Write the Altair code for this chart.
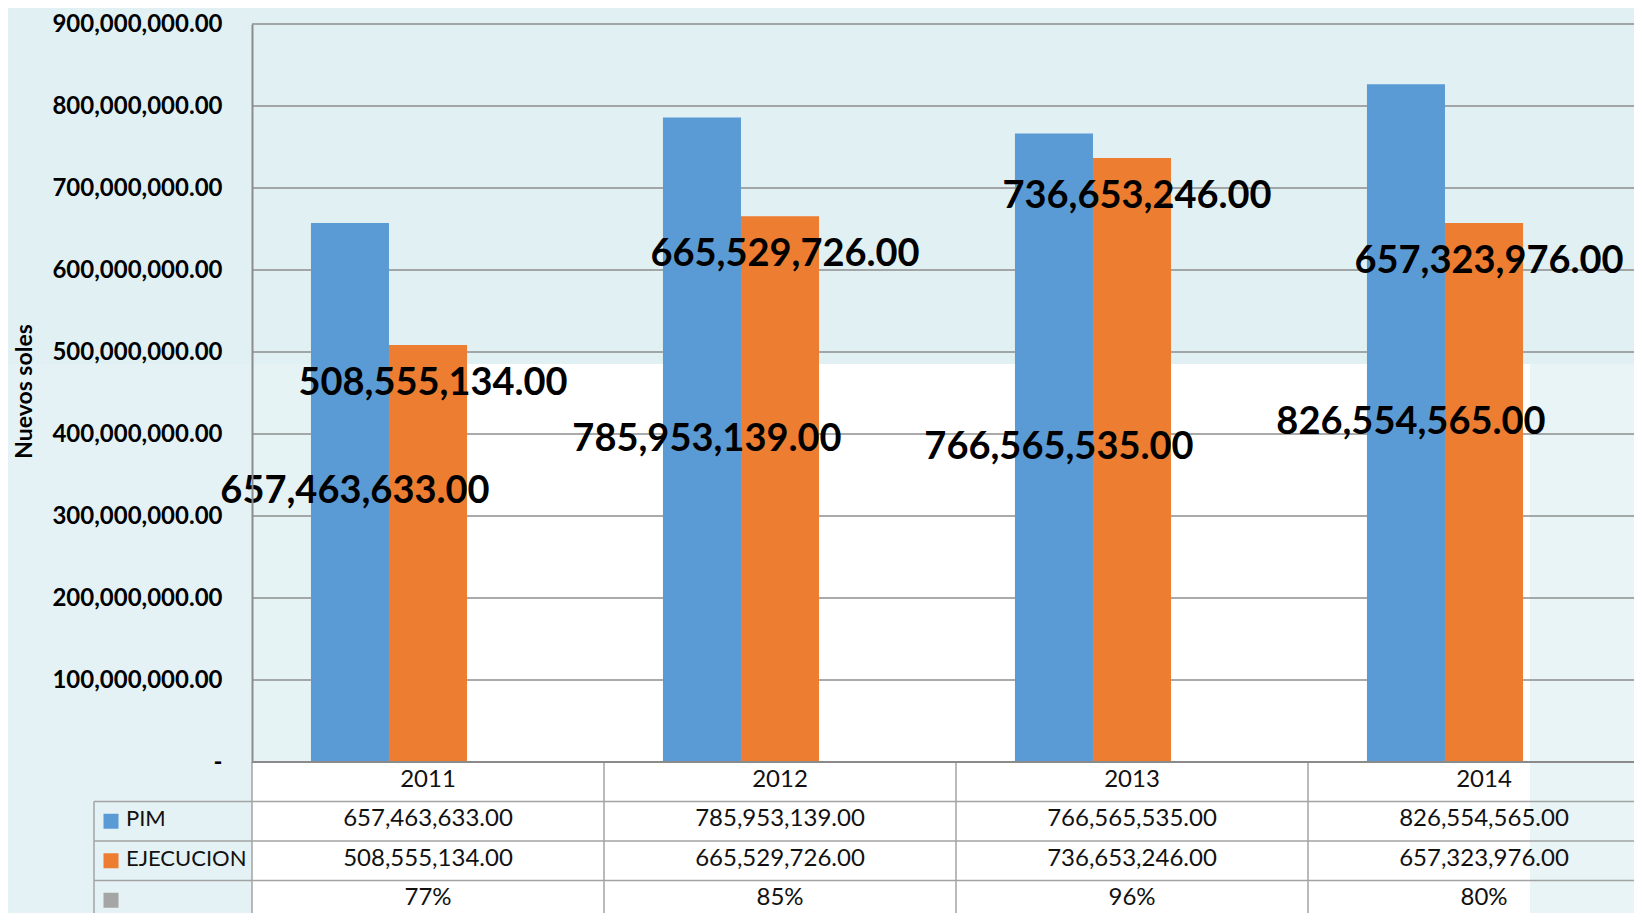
import altair as alt
import pandas as pd

# ---------------- data ----------------
years = ["2011", "2012", "2013", "2014"]
pim = [657463633.00, 785953139.00, 766565535.00, 826554565.00]
ejecucion = [508555134.00, 665529726.00, 736653246.00, 657323976.00]
pct = [77, 85, 96, 80]
series_keys = ["PIM", "EJECUCION", "PCT"]
series_labels = ["PIM", "EJECUCION", ""]
series_colors = ["#5B9BD5", "#ED7D31", "#A5A5A5"]
y_ticks = [0, 100000000, 200000000, 300000000, 400000000, 500000000,
           600000000, 700000000, 800000000, 900000000]
y_title = "Nuevos soles"

# ---------------- layout ----------------
W = 1382          # visible plot width
FULL_W = 1408     # four category columns (last one runs past the right edge)
PLOT_H = 738      # value area height
ROW_H = 39.5      # data-table row height
H = 889           # value area + data table
FONT = "Lato"

bars_df = pd.DataFrame({
    "year": years * 2,
    "series": ["PIM"] * 4 + ["EJECUCION"] * 4,
    "value": pim + ejecucion,
})
pim_df = bars_df[bars_df.series == "PIM"]
eje_df = bars_df[bars_df.series == "EJECUCION"]
grid_df = pd.DataFrame({"value": y_ticks[1:]})

rows = []
for i, yr in enumerate(years):
    rows.append({"year": yr, "row": 0.5, "text": yr})
    rows.append({"year": yr, "row": 1.5, "text": f"{pim[i]:,.2f}"})
    rows.append({"year": yr, "row": 2.5, "text": f"{ejecucion[i]:,.2f}"})
    rows.append({"year": yr, "row": 3.5, "text": f"{pct[i]}%"})
table_df = pd.DataFrame(rows)
legend_df = pd.DataFrame({"series": series_keys, "label": series_labels,
                          "row": [1.5, 2.5, 3.5]})
vline_df = pd.DataFrame({"year": years, "r0": [0] * 4, "r1": [4] * 4})
hline_df = pd.DataFrame({"row": [1, 2, 3]})
one = pd.DataFrame({"k": [0]})

# ---------------- scales ----------------
xs_bar = alt.Scale(domain=years, range=[0, FULL_W], paddingInner=0.335, paddingOuter=0.1675)
ys_bar = alt.Scale(domain=[0, 900000000], range=[PLOT_H, 0], nice=False, zero=True)
xoff = alt.XOffset("series:N", scale=alt.Scale(domain=series_keys, paddingInner=0, paddingOuter=0))
color = alt.Color("series:N", scale=alt.Scale(domain=series_keys, range=series_colors), legend=None)
xs_tab = alt.Scale(domain=years, range=[0, FULL_W], paddingInner=0, paddingOuter=0)
ys_tab = alt.Scale(domain=[0, 4], range=[PLOT_H, PLOT_H + 4 * ROW_H], nice=False, zero=False)

# ---------------- background decoration ----------------
def deco(x, x2, y, y2, c):
    return alt.Chart(one).mark_rect(color=c).encode(
        x=alt.value(x), x2=alt.value(x2), y=alt.value(y), y2=alt.value(y2))

decor = alt.layer(
    deco(-244, W, -16, 340, "#E1F0F3"),
    deco(-244, 0, 340, H, "#E4F2F5"),
    deco(0, 120, 340, PLOT_H, "#E6F3F5"),
    deco(1278, W, 340, H, "#E8F4F6"),
)

# ---------------- value chart ----------------
grid = alt.Chart(grid_df).mark_rule(color="#8E8E8E", strokeWidth=1.5).encode(
    y=alt.Y("value:Q", scale=ys_bar), x=alt.value(0), x2=alt.value(W))

yaxis = alt.Axis(
    values=y_ticks,
    labelExpr="datum.value == 0 ? '-\u00a0\u00a0' : format(datum.value, ',.2f')",
    labelFont=FONT, labelFontWeight="bold", labelFontSize=24, labelColor="#000000",
    labelPadding=30, ticks=False, grid=False,
    domainColor="#8C8C8C", domainWidth=2,
    title=y_title, titleFont=FONT, titleFontSize=23, titleFontWeight="bold",
    titleColor="#000000", titleX=-228, titleY=367, titleAngle=270,
    titleAlign="center", titleBaseline="middle", zindex=1,
)

bars = alt.Chart(bars_df).mark_bar().encode(
    x=alt.X("year:N", scale=xs_bar, axis=None),
    xOffset=xoff,
    y=alt.Y("value:Q", scale=ys_bar, axis=yaxis),
    color=color,
)

lab_pim = alt.Chart(pim_df).transform_calculate(mid="datum.value / 2").mark_text(
    font=FONT, fontWeight="bold", fontSize=38, color="#000000", dx=5,
    align="center", baseline="middle").encode(
    x=alt.X("year:N", scale=xs_bar, axis=None), xOffset=xoff,
    y=alt.Y("mid:Q", scale=ys_bar),
    text=alt.Text("value:Q", format=",.2f"))

lab_eje = alt.Chart(eje_df).mark_text(
    font=FONT, fontWeight="bold", fontSize=38, color="#000000", dx=5, dy=39,
    align="center", baseline="middle").encode(
    x=alt.X("year:N", scale=xs_bar, axis=None), xOffset=xoff,
    y=alt.Y("value:Q", scale=ys_bar),
    text=alt.Text("value:Q", format=",.2f"))

value_chart = alt.layer(grid, bars, lab_pim, lab_eje)

# ---------------- data table ----------------
hlines = alt.Chart(hline_df).mark_rule(color="#A3A3A3", strokeWidth=1.5).encode(
    y=alt.Y("row:Q", scale=ys_tab, axis=None), x=alt.value(-158), x2=alt.value(W))
vlines = alt.Chart(vline_df).mark_rule(color="#A3A3A3", strokeWidth=1.5).encode(
    x=alt.X("year:N", scale=xs_tab, axis=None, bandPosition=0),
    y=alt.Y("r0:Q", scale=ys_tab, axis=None), y2="r1:Q")
legend_border = alt.Chart(one).mark_rule(color="#A3A3A3", strokeWidth=1.5).encode(
    x=alt.value(-158), y=alt.Y(datum=1, scale=ys_tab, axis=None), y2=alt.Y2(datum=4))
baseline = alt.Chart(one).mark_rule(color="#8A8A8A", strokeWidth=2).encode(
    y=alt.Y(datum=0, scale=ys_tab, axis=None), x=alt.value(0), x2=alt.value(W))
cells = alt.Chart(table_df).mark_text(
    font=FONT, fontSize=24, color="#111111", align="center", baseline="middle", dy=-2).encode(
    x=alt.X("year:N", scale=xs_tab, axis=None),
    y=alt.Y("row:Q", scale=ys_tab, axis=None),
    text="text:N")
keys = alt.Chart(legend_df).mark_square(size=225, opacity=1).encode(
    x=alt.value(-141),
    y=alt.Y("row:Q", scale=ys_tab, axis=None),
    color=color)
key_labels = alt.Chart(legend_df).mark_text(
    font=FONT, fontSize=22, color="#111111", align="left", baseline="middle", dy=-2).encode(
    x=alt.value(-126),
    y=alt.Y("row:Q", scale=ys_tab, axis=None),
    text="label:N")

table_chart = alt.layer(hlines, vlines, legend_border, cells, keys, key_labels, baseline)

chart = alt.layer(decor, value_chart, table_chart).resolve_scale(
    x="independent", y="independent"
).properties(
    width=W, height=H,
    autosize=alt.AutoSizeParams(type="none"),
    padding={"left": 244, "top": 16, "right": 0, "bottom": 0},
    background="#FFFFFF",
).configure_view(stroke=None)

chart.save("out.html", embed_options={"renderer": "svg", "actions": False})
